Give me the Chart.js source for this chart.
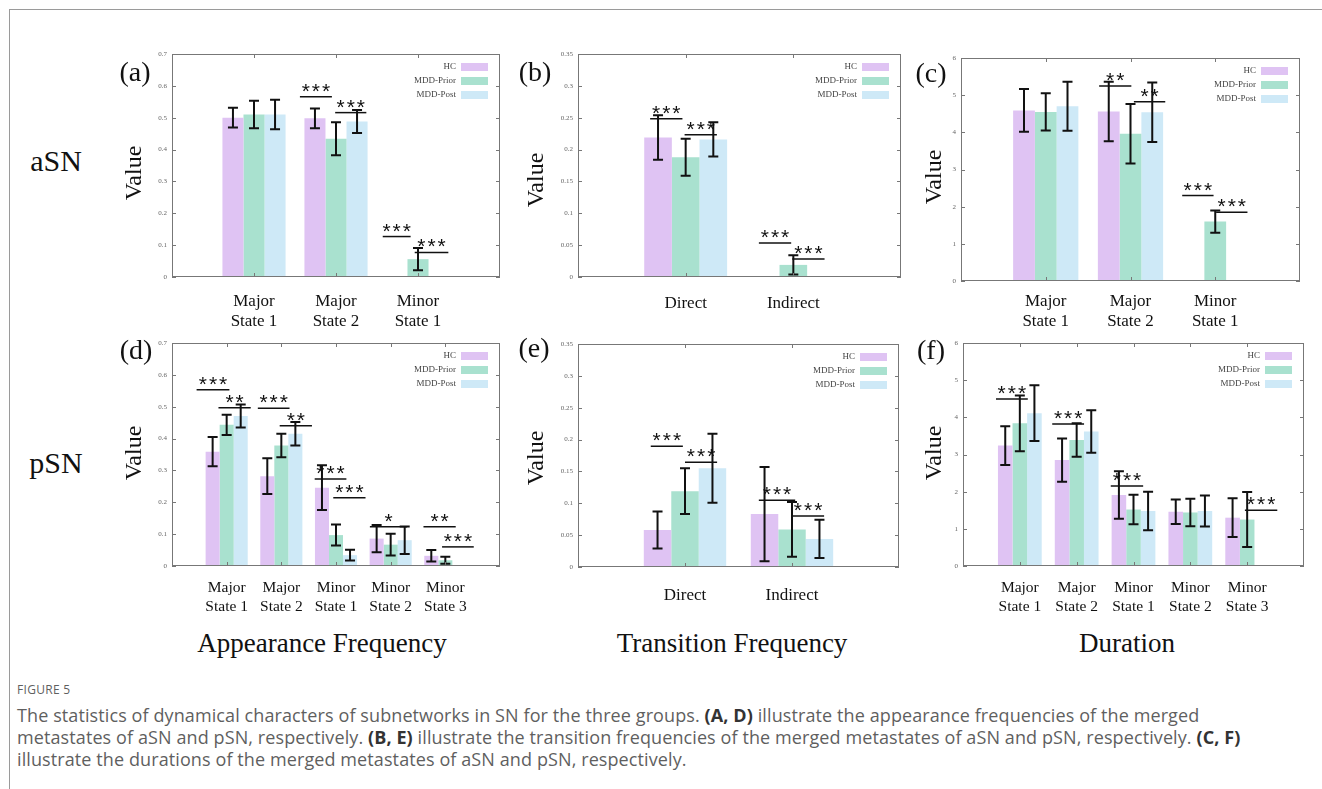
<!DOCTYPE html>
<html>
<head>
<meta charset="utf-8">
<script src="https://cdn.jsdelivr.net/npm/chart.js@4.4.1/dist/chart.umd.min.js"></script>
<style>
  html, body { margin: 0; padding: 0; background: #fff; }
  body { width: 1322px; height: 789px; position: relative; overflow: hidden; font-family: "Liberation Serif", "Times New Roman", serif; }
  .frame { position: absolute; left: 9px; top: 9px; width: 1400px; height: 900px; border-left: 1px solid #9a9a9a; border-top: 1px solid #9a9a9a; }
  .txt { position: absolute; transform: translate(-50%, -50%); white-space: nowrap; color: #111; }
  .vlab { position: absolute; transform: translate(-50%, -50%) rotate(-90deg); white-space: nowrap; font-size: 24px; color: #111; }
  canvas { position: absolute; }
  .cap { position: absolute; left: 17px; font-family: "Open Sans", sans-serif; color: #5f5f5f; white-space: nowrap; }
  .cap b { color: #333; }
</style>
</head>
<body>
<div class="frame"></div>

<div class="txt" style="left:56px; top:161px; font-size:30px;">aSN</div>
<div class="txt" style="left:56px; top:463px; font-size:30px;">pSN</div>

<div class="txt" style="left:322px; top:643px; font-size:27px;">Appearance Frequency</div>
<div class="txt" style="left:732px; top:643px; font-size:27px;">Transition Frequency</div>
<div class="txt" style="left:1127px; top:643px; font-size:27px;">Duration</div>

<div class="cap" style="top:681px; font-size:12px; letter-spacing:0.3px;">FIGURE 5</div>
<div class="cap" style="top:703px; font-size:18px; letter-spacing:0.1px;">The statistics of dynamical characters of subnetworks in SN for the three groups. <b>(A, D)</b> illustrate the appearance frequencies of the merged</div>
<div class="cap" style="top:725px; font-size:18px; letter-spacing:0.1px;">metastates of aSN and pSN, respectively. <b>(B, E)</b> illustrate the transition frequencies of the merged metastates of aSN and pSN, respectively. <b>(C, F)</b></div>
<div class="cap" style="top:747px; font-size:18px; letter-spacing:0.1px;">illustrate the durations of the merged metastates of aSN and pSN, respectively.</div>

<script>
/* ---------- data ---------- */
const groups = ['HC', 'MDD-Prior', 'MDD-Post'];

const statesAsn = [['Major', 'State 1'], ['Major', 'State 2'], ['Minor', 'State 1']];
const statesPsn = [['Major', 'State 1'], ['Major', 'State 2'], ['Minor', 'State 1'], ['Minor', 'State 2'], ['Minor', 'State 3']];
const transLabels = ['Direct', 'Indirect'];

// (a) appearance frequency, aSN
const appAsnHC = [0.500, 0.498, null];
const appAsnPrior = [0.510, 0.434, 0.056];
const appAsnPost = [0.510, 0.488, null];
const appAsnHCErr = [0.031, 0.031, null];
const appAsnPriorErr = [0.043, 0.052, 0.035];
const appAsnPostErr = [0.046, 0.036, null];
const appAsnSig = [
    { from: 1.56, to: 1.95, y: 0.566, stars: '***' },
    { from: 1.99, to: 2.37, y: 0.516, stars: '***' },
    { from: 2.57, to: 2.91, y: 0.127, stars: '***' },
    { from: 2.96, to: 3.37, y: 0.077, stars: '***' }
];

// (b) transition frequency, aSN
const trAsnHC = [0.219, null];
const trAsnPrior = [0.188, 0.019];
const trAsnPost = [0.216, null];
const trAsnHCErr = [0.035, null];
const trAsnPriorErr = [0.029, 0.015];
const trAsnPostErr = [0.027, null];
const trAsnSig = [
    { from: 0.67, to: 0.97, y: 0.2485, stars: '***' },
    { from: 0.99, to: 1.29, y: 0.2234, stars: '***' },
    { from: 1.68, to: 1.98, y: 0.0534, stars: '***' },
    { from: 1.99, to: 2.29, y: 0.0283, stars: '***' }
];

// (c) duration, aSN
const durAsnHC = [4.59, 4.56, null];
const durAsnPrior = [4.55, 3.96, 1.60];
const durAsnPost = [4.70, 4.54, null];
const durAsnHCErr = [0.575, 0.80, null];
const durAsnPriorErr = [0.50, 0.80, 0.30];
const durAsnPostErr = [0.66, 0.80, null];
const durAsnSig = [
    { from: 1.63, to: 2.01, y: 5.25, stars: '**' },
    { from: 2.04, to: 2.41, y: 4.82, stars: '**' },
    { from: 2.61, to: 2.98, y: 2.30, stars: '***' },
    { from: 3.01, to: 3.38, y: 1.85, stars: '***' }
];

// (d) appearance frequency, pSN
const appPsnHC = [0.359, 0.282, 0.246, 0.086, 0.032];
const appPsnPrior = [0.443, 0.378, 0.097, 0.067, 0.018];
const appPsnPost = [0.471, 0.415, 0.034, 0.081, null];
const appPsnHCErr = [0.046, 0.056, 0.070, 0.043, 0.018];
const appPsnPriorErr = [0.032, 0.037, 0.033, 0.034, 0.011];
const appPsnPostErr = [0.036, 0.037, 0.017, 0.043, null];
const appPsnSig = [
    { from: 0.45, to: 1.05, y: 0.553, stars: '***' },
    { from: 0.85, to: 1.44, y: 0.497, stars: '**' },
    { from: 1.57, to: 2.15, y: 0.495, stars: '***' },
    { from: 1.97, to: 2.56, y: 0.440, stars: '**' },
    { from: 2.61, to: 3.19, y: 0.273, stars: '***' },
    { from: 2.95, to: 3.54, y: 0.214, stars: '***' },
    { from: 3.62, to: 4.30, y: 0.123, stars: '*' },
    { from: 4.60, to: 5.19, y: 0.123, stars: '**' },
    { from: 4.94, to: 5.52, y: 0.060, stars: '***' }
];

// (e) transition frequency, pSN
const trPsnHC = [0.058, 0.083];
const trPsnPrior = [0.119, 0.059];
const trPsnPost = [0.155, 0.044];
const trPsnHCErr = [0.029, 0.074];
const trPsnPriorErr = [0.036, 0.043];
const trPsnPostErr = [0.054, 0.030];
const trPsnSig = [
    { from: 0.68, to: 0.98, y: 0.1897, stars: '***' },
    { from: 1.00, to: 1.30, y: 0.1645, stars: '***' },
    { from: 1.69, to: 2.03, y: 0.1048, stars: '***' },
    { from: 2.00, to: 2.30, y: 0.0800, stars: '***' }
];

// (f) duration, pSN
const durPsnHC = [3.24, 2.85, 1.91, 1.46, 1.30];
const durPsnPrior = [3.84, 3.39, 1.52, 1.44, 1.25];
const durPsnPost = [4.11, 3.62, 1.48, 1.48, null];
const durPsnHCErr = [0.52, 0.58, 0.64, 0.33, 0.52];
const durPsnPriorErr = [0.75, 0.45, 0.40, 0.37, 0.74];
const durPsnPostErr = [0.75, 0.57, 0.52, 0.42, null];
const durPsnSig = [
    { from: 0.58, to: 1.14, y: 4.49, stars: '***' },
    { from: 1.57, to: 2.13, y: 3.82, stars: '***' },
    { from: 2.60, to: 3.17, y: 2.15, stars: '***' },
    { from: 4.96, to: 5.53, y: 1.50, stars: '***' }
];

/* ---------- look ---------- */
const barColors = ['#dfc3f3', '#a9e1cf', '#cee9f7'];
const SERIF = '"Liberation Serif", "Times New Roman", serif';

const panels = [
    { tag: '(a)', labels: statesAsn, vals: [appAsnHC, appAsnPrior, appAsnPost], errs: [appAsnHCErr, appAsnPriorErr, appAsnPostErr],
      sig: appAsnSig, yMax: 0.7, yStep: 0.1, rect: [172, 54, 500, 277], xFont: 17, xPad: 6, tagPos: [135, 72], vPos: [133, 173] },
    { tag: '(b)', labels: transLabels, vals: [trAsnHC, trAsnPrior, trAsnPost], errs: [trAsnHCErr, trAsnPriorErr, trAsnPostErr],
      sig: trAsnSig, yMax: 0.35, yStep: 0.05, rect: [578, 54, 901, 277], xFont: 17, xPad: 8, tagPos: [535, 72], vPos: [535, 180] },
    { tag: '(c)', labels: statesAsn, vals: [durAsnHC, durAsnPrior, durAsnPost], errs: [durAsnHCErr, durAsnPriorErr, durAsnPostErr],
      sig: durAsnSig, yMax: 6, yStep: 1, rect: [961, 58, 1300, 281], xFont: 17, xPad: 2, tagPos: [931, 73], vPos: [933, 177] },
    { tag: '(d)', labels: statesPsn, vals: [appPsnHC, appPsnPrior, appPsnPost], errs: [appPsnHCErr, appPsnPriorErr, appPsnPostErr],
      sig: appPsnSig, yMax: 0.7, yStep: 0.1, rect: [172, 343, 500, 566], xFont: 15.5, xPad: 5, tagPos: [136, 350], vPos: [133, 453] },
    { tag: '(e)', labels: transLabels, vals: [trPsnHC, trPsnPrior, trPsnPost], errs: [trPsnHCErr, trPsnPriorErr, trPsnPostErr],
      sig: trPsnSig, yMax: 0.35, yStep: 0.05, rect: [578, 344, 901, 567], xFont: 17, xPad: 10, tagPos: [534, 348], vPos: [535, 458] },
    { tag: '(f)', labels: statesPsn, vals: [durPsnHC, durPsnPrior, durPsnPost], errs: [durPsnHCErr, durPsnPriorErr, durPsnPostErr],
      sig: durPsnSig, yMax: 6, yStep: 1, rect: [963, 343, 1304, 566], xFont: 15.5, xPad: 5, tagPos: [931, 350], vPos: [933, 453] }
];

// empty slot at each end so the groups sit like the gnuplot original
const pad = arr => [null, ...arr, null];

function addText(cls, text, pos, size) {
    const d = document.createElement('div');
    d.className = cls;
    d.textContent = text;
    d.style.left = pos[0] + 'px';
    d.style.top = pos[1] + 'px';
    if (size) d.style.fontSize = size + 'px';
    document.body.appendChild(d);
}

function panelPlugin(p) {
    return {
        id: 'panelDeco',
        afterDatasetsDraw(chart) {
            const ctx = chart.ctx;
            const area = chart.chartArea;
            const xs = chart.scales.x, ys = chart.scales.y;

            // error bars
            ctx.save();
            ctx.strokeStyle = '#111';
            ctx.lineWidth = 2;
            chart.data.datasets.forEach((ds, i) => {
                const meta = chart.getDatasetMeta(i);
                meta.data.forEach((bar, j) => {
                    const v = ds.data[j], e = ds.err[j];
                    if (v == null || e == null) return;
                    const yt = ys.getPixelForValue(v + e);
                    const yb = ys.getPixelForValue(v - e);
                    ctx.beginPath();
                    ctx.moveTo(bar.x, yt); ctx.lineTo(bar.x, yb);
                    ctx.moveTo(bar.x - 5, yt); ctx.lineTo(bar.x + 5, yt);
                    ctx.moveTo(bar.x - 5, yb); ctx.lineTo(bar.x + 5, yb);
                    ctx.stroke();
                });
            });
            ctx.restore();

            // significance lines
            ctx.save();
            ctx.strokeStyle = '#111';
            ctx.fillStyle = '#111';
            ctx.lineWidth = 1.5;
            ctx.font = '21px "Liberation Sans", Arial, sans-serif';
            ctx.textAlign = 'center';
            ctx.textBaseline = 'alphabetic';
            ctx.letterSpacing = '2px';
            p.sig.forEach(s => {
                const x0 = xs.getPixelForValue(s.from);
                const x1 = xs.getPixelForValue(s.to);
                const y = ys.getPixelForValue(s.y);
                ctx.beginPath();
                ctx.moveTo(x0, y); ctx.lineTo(x1, y);
                ctx.stroke();
                ctx.fillText(s.stars, (x0 + x1) / 2 + 1, y + 1);
            });
            ctx.restore();

            // frame with inward ticks
            ctx.save();
            ctx.strokeStyle = '#777';
            ctx.lineWidth = 1;
            ctx.strokeRect(area.left + 0.5, area.top + 0.5, area.right - area.left - 1, area.bottom - area.top - 1);
            ctx.beginPath();
            ys.ticks.forEach(t => {
                const y = Math.round(ys.getPixelForValue(t.value)) + 0.5;
                ctx.moveTo(area.left, y); ctx.lineTo(area.left + 4, y);
                ctx.moveTo(area.right, y); ctx.lineTo(area.right - 4, y);
            });
            for (let i = 1; i <= p.labels.length; i++) {
                const x = Math.round(xs.getPixelForValue(i)) + 0.5;
                ctx.moveTo(x, area.bottom); ctx.lineTo(x, area.bottom - 4);
                ctx.moveTo(x, area.top); ctx.lineTo(x, area.top + 4);
            }
            ctx.stroke();
            ctx.restore();

            // legend, text left of swatch
            ctx.save();
            ctx.font = '9px ' + SERIF;
            ctx.textAlign = 'right';
            ctx.textBaseline = 'middle';
            groups.forEach((g, k) => {
                const yc = area.top + 13 + k * 14;
                const sx = area.right - 12 - 27;
                ctx.fillStyle = barColors[k];
                ctx.fillRect(sx, yc - 4, 27, 8);
                ctx.fillStyle = '#444';
                ctx.fillText(g, sx - 5, yc);
            });
            ctx.restore();
        }
    };
}

panels.forEach(p => {
    const [L, T, R, B] = p.rect;
    const cv = document.createElement('canvas');
    const w = R - L + 48, h = B - T + 12 + 60;
    cv.width = w; cv.height = h;
    cv.style.left = (L - 40) + 'px';
    cv.style.top = (T - 12) + 'px';
    cv.style.width = w + 'px';
    cv.style.height = h + 'px';
    document.body.appendChild(cv);

    addText('txt', p.tag, p.tagPos, 28);
    addText('vlab', 'Value', p.vPos);

    new Chart(cv.getContext('2d'), {
        type: 'bar',
        data: {
            labels: pad(p.labels).map(l => l == null ? '' : l),
            datasets: groups.map((g, k) => ({
                label: g,
                data: pad(p.vals[k]),
                err: pad(p.errs[k]),
                backgroundColor: barColors[k],
                borderWidth: 0,
                categoryPercentage: 0.77,
                barPercentage: 1.0
            }))
        },
        options: {
            responsive: false,
            animation: false,
            devicePixelRatio: 1,
            layout: { padding: { left: 0, top: 12, right: 8, bottom: 0 } },
            plugins: { legend: { display: false }, tooltip: { enabled: false } },
            scales: {
                x: {
                    offset: false,
                    grid: { display: false },
                    border: { display: false },
                    ticks: {
                        autoSkip: false, maxRotation: 0, minRotation: 0,
                        padding: p.xPad, color: '#111',
                        font: { family: SERIF, size: p.xFont, lineHeight: 1.2 }
                    },
                    afterFit: s => { s.height = 60; }
                },
                y: {
                    min: 0, max: p.yMax,
                    grid: { display: false, drawTicks: false },
                    border: { display: false },
                    ticks: {
                        stepSize: p.yStep, padding: 5, color: '#666',
                        font: { family: SERIF, size: 7 },
                        callback: v => String(Math.round(v * 100) / 100)
                    },
                    afterFit: s => { s.width = 40; }
                }
            }
        },
        plugins: [panelPlugin(p)]
    });
});
</script>
</body>
</html>
